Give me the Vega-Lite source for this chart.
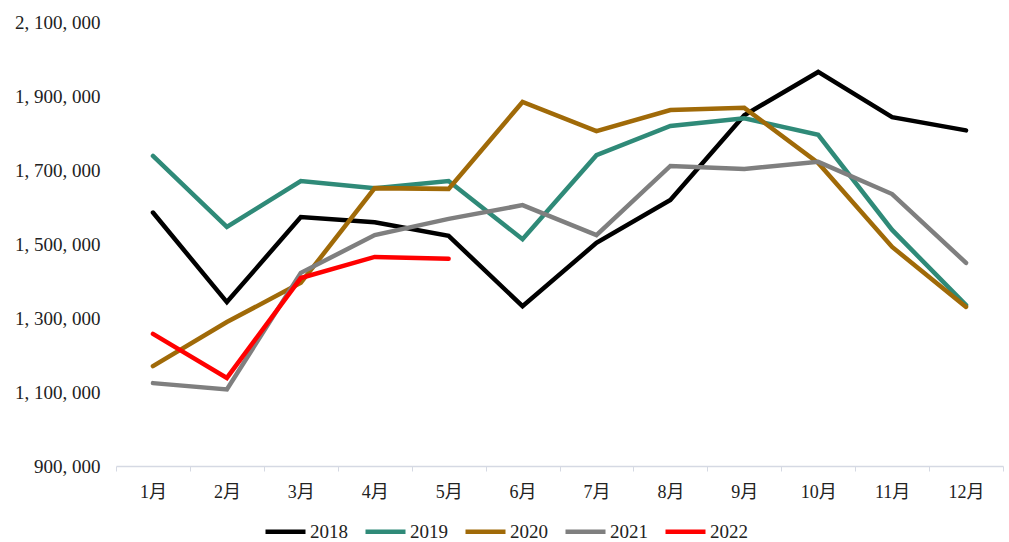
{
  "$schema": "https://vega.github.io/schema/vega-lite/v6.json",
  "width": 887,
  "height": 444,
  "autosize": {"type": "none"},
  "padding": {"left": 116, "top": 22, "right": 6, "bottom": 76},
  "background": "white",
  "config": {
    "view": {"stroke": null}
  },
  "data": {
    "values": [
      {"month": "1月", "year": "2018", "value": 1585000},
      {"month": "2月", "year": "2018", "value": 1343000},
      {"month": "3月", "year": "2018", "value": 1573000},
      {"month": "4月", "year": "2018", "value": 1559000},
      {"month": "5月", "year": "2018", "value": 1522000},
      {"month": "6月", "year": "2018", "value": 1332000},
      {"month": "7月", "year": "2018", "value": 1503000},
      {"month": "8月", "year": "2018", "value": 1619000},
      {"month": "9月", "year": "2018", "value": 1848000},
      {"month": "10月", "year": "2018", "value": 1965000},
      {"month": "11月", "year": "2018", "value": 1843000},
      {"month": "12月", "year": "2018", "value": 1807000},
      {"month": "1月", "year": "2019", "value": 1738000},
      {"month": "2月", "year": "2019", "value": 1546000},
      {"month": "3月", "year": "2019", "value": 1670000},
      {"month": "4月", "year": "2019", "value": 1651000},
      {"month": "5月", "year": "2019", "value": 1670000},
      {"month": "6月", "year": "2019", "value": 1513000},
      {"month": "7月", "year": "2019", "value": 1740000},
      {"month": "8月", "year": "2019", "value": 1819000},
      {"month": "9月", "year": "2019", "value": 1840000},
      {"month": "10月", "year": "2019", "value": 1795000},
      {"month": "11月", "year": "2019", "value": 1538000},
      {"month": "12月", "year": "2019", "value": 1335000},
      {"month": "1月", "year": "2020", "value": 1170000},
      {"month": "2月", "year": "2020", "value": 1289000},
      {"month": "3月", "year": "2020", "value": 1395000},
      {"month": "4月", "year": "2020", "value": 1651000},
      {"month": "5月", "year": "2020", "value": 1649000},
      {"month": "6月", "year": "2020", "value": 1884000},
      {"month": "7月", "year": "2020", "value": 1805000},
      {"month": "8月", "year": "2020", "value": 1862000},
      {"month": "9月", "year": "2020", "value": 1868000},
      {"month": "10月", "year": "2020", "value": 1719000},
      {"month": "11月", "year": "2020", "value": 1492000},
      {"month": "12月", "year": "2020", "value": 1330000},
      {"month": "1月", "year": "2021", "value": 1124000},
      {"month": "2月", "year": "2021", "value": 1107000},
      {"month": "3月", "year": "2021", "value": 1422000},
      {"month": "4月", "year": "2021", "value": 1524000},
      {"month": "5月", "year": "2021", "value": 1568000},
      {"month": "6月", "year": "2021", "value": 1605000},
      {"month": "7月", "year": "2021", "value": 1524000},
      {"month": "8月", "year": "2021", "value": 1711000},
      {"month": "9月", "year": "2021", "value": 1703000},
      {"month": "10月", "year": "2021", "value": 1722000},
      {"month": "11月", "year": "2021", "value": 1635000},
      {"month": "12月", "year": "2021", "value": 1449000},
      {"month": "1月", "year": "2022", "value": 1257000},
      {"month": "2月", "year": "2022", "value": 1138000},
      {"month": "3月", "year": "2022", "value": 1408000},
      {"month": "4月", "year": "2022", "value": 1465000},
      {"month": "5月", "year": "2022", "value": 1460000}
    ]
  },
  "mark": {"type": "line", "strokeCap": "round", "strokeJoin": "miter"},
  "encoding": {
    "x": {
      "field": "month",
      "type": "ordinal",
      "sort": ["1月", "2月", "3月", "4月", "5月", "6月", "7月", "8月", "9月", "10月", "11月", "12月"],
      "bandPosition": 0.5,
      "scale": {"type": "band", "paddingInner": 0, "paddingOuter": 0},
      "axis": {
        "title": null,
        "labelAngle": 0,
        "tickBand": "extent",
        "domainColor": "#d5d9e3",
        "domainWidth": 1.5,
        "tickColor": "#d5d9e3",
        "tickSize": 5,
        "labelPadding": 12,
        "labelFont": "Liberation Serif, Noto Sans CJK SC",
        "labelFontSize": 18,
        "labelColor": "#222222"
      }
    },
    "y": {
      "field": "value",
      "type": "quantitative",
      "scale": {"domain": [900000, 2100000], "nice": false, "zero": false},
      "axis": {
        "title": null,
        "values": [900000, 1100000, 1300000, 1500000, 1700000, 1900000, 2100000],
        "grid": false,
        "domain": false,
        "ticks": false,
        "labelPadding": 16,
        "labelFont": "Liberation Serif, Noto Sans CJK SC",
        "labelFontSize": 19,
        "labelColor": "#222222",
        "labelExpr": "replace(format(datum.value, ','), regexp(',', 'g'), ', ')"
      }
    },
    "color": {
      "field": "year",
      "type": "nominal",
      "scale": {"domain": ["2018", "2019", "2020", "2021", "2022"], "range": ["#000000", "#2f8a78", "#a06a08", "#7f7f7f", "#ff0000"]},
      "legend": {
        "title": null,
        "orient": "none",
        "direction": "horizontal",
        "legendX": 147,
        "legendY": 487,
        "symbolType": "stroke",
        "symbolStrokeWidth": 5,
        "symbolSize": 1600,
        "columnPadding": 8,
        "labelOffset": 2,
        "labelFont": "Liberation Serif, Noto Sans CJK SC",
        "labelFontSize": 19,
        "labelColor": "#222222"
      }
    },
    "strokeWidth": {
      "field": "year",
      "type": "nominal",
      "scale": {"domain": ["2018", "2019", "2020", "2021", "2022"], "range": [4.5, 4.5, 4.5, 4.5, 5.5]},
      "legend": null
    }
  }
}
